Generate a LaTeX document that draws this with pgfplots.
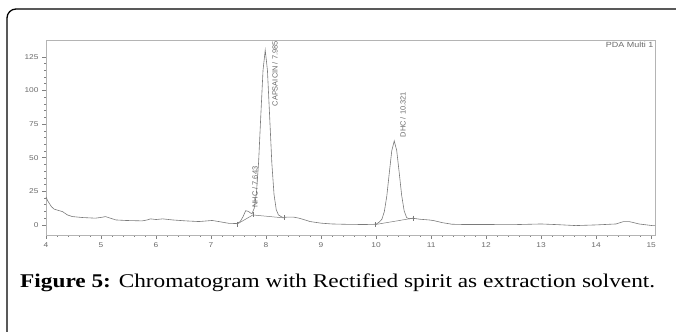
\documentclass[border=0pt]{standalone}
\usepackage{pgfplots}
\pgfplotsset{compat=1.18}
\usepackage{fontspec}
\setmainfont{Liberation Serif}
\newfontfamily\arial{Liberation Sans}
\definecolor{axgray}{HTML}{B4B4B4}
\definecolor{tickgray}{HTML}{808080}
\definecolor{lblgray}{HTML}{6A6A6A}
\definecolor{trace}{HTML}{7A7A7A}
\begin{document}
\begin{tikzpicture}
\clip (0,0) rectangle (676bp,332bp);
\draw[line width=1.3bp, rounded corners=9bp] (7bp,-20bp) -- (7bp,323bp) -- (700bp,323bp);
\begin{axis}[
  at={(46bp,97bp)}, anchor=south west,
  scale only axis, width=609bp, height=195bp,
  xmin=4, xmax=15.07, ymin=-7.5, ymax=137.5,
  xtick={4,5,...,15}, ytick={0,25,50,75,100,125},
  minor x tick num=4, minor y tick num=4,
  xtick pos=bottom, ytick pos=left,
  tick align=outside,
  major tick length=4bp, minor tick length=2bp,
  axis line style={axgray, line width=0.8bp},
  every tick/.style={tickgray, line width=0.5bp},
  tick label style={font=\arial\fontsize{7}{8}\selectfont, text=lblgray},
  /pgf/number format/assume math mode=true,
  xticklabel={\scalebox{1.2}[1]{\pgfmathprintnumber{\tick}}},
  yticklabel={\scalebox{1.2}[1]{\pgfmathprintnumber{\tick}}},
  xticklabel style={yshift=-0.5bp},
  clip=false,
]
\addplot[trace, line width=0.6bp] coordinates {
(4.00,20.8) (4.03,18) (4.06,16) (4.10,13.5) (4.15,11.7) (4.24,10.6) (4.30,9.9) (4.39,7.4) (4.48,6.2) (4.66,5.5) (4.90,5.0) (5.02,5.7) (5.08,6.2) (5.17,5.0) (5.27,3.7) (5.45,3.3) (5.75,3.0) (5.84,3.7) (5.90,4.5) (6.00,4.0) (6.12,4.5) (6.30,3.7) (6.54,3.0) (6.78,2.5) (7.02,3.3) (7.14,2.5) (7.32,1.2) (7.47,1.0) (7.53,2.5) (7.58,6) (7.63,10.6) (7.68,10.0) (7.72,8.8) (7.745,8.4) (7.785,12.4) (7.825,23.6) (7.865,47) (7.905,81.7) (7.945,115) (7.985,130) (8.025,115) (8.065,81) (8.105,46) (8.145,22.6) (8.185,11.4) (8.225,7.4) (8.30,5.6) (8.40,5.8) (8.50,5.8) (8.60,5.0) (8.70,3.8) (8.80,2.5) (9.00,1.3) (9.20,0.7) (9.50,0.4) (9.80,0.3) (10.00,0.5) (10.06,2.2) (10.105,4.2) (10.15,9.9) (10.195,21.5) (10.24,38.6) (10.285,55.1) (10.33,62.5) (10.375,55.3) (10.42,39) (10.465,22) (10.51,10.5) (10.555,5.5) (10.60,4.5) (10.66,5.0) (10.80,4.2) (10.96,3.7) (11.05,3.2) (11.20,1.7) (11.38,0.5) (11.6,0.3) (12.0,0.3) (12.5,0.2) (13.0,0.7) (13.3,0.2) (13.63,-0.5) (14.0,0) (14.36,0.7) (14.5,2.5) (14.6,2.5) (14.78,0.7) (15.02,-0.5) (15.07,-0.5)
};
\addplot[trace, line width=0.5bp, mark=|, mark size=2.5bp] coordinates {(7.47,0.5) (7.76,7.4) (8.33,5.2)};
\addplot[trace, line width=0.5bp, mark=|, mark size=2.5bp] coordinates {(9.99,0.3) (10.67,5)};
\node[rotate=90, anchor=west, inner sep=0pt, font=\arial\fontsize{7.5}{8}\selectfont, text=lblgray] at (axis cs:7.80,12.6) {NHC / 7.643};
\node[rotate=90, anchor=west, inner sep=0pt, font=\arial\fontsize{7.5}{8}\selectfont, text=lblgray] at (axis cs:8.16,88) {CAPSAICIN / 7.985};
\node[rotate=90, anchor=west, inner sep=0pt, font=\arial\fontsize{7.5}{8}\selectfont, text=lblgray] at (axis cs:10.49,65) {DHC / 10.321};
\node[anchor=north east, inner sep=1.5bp, font=\arial\fontsize{7.5}{8}\selectfont, text=lblgray] at (rel axis cs:1,1) {\scalebox{1.2}[1]{PDA Multi 1}};
\end{axis}
\node[anchor=base west, inner sep=0pt] at (20bp,44.5bp) {\resizebox{635bp}{\height}{\fontsize{19.5}{22}\selectfont\textbf{Figure 5:} Chromatogram with Rectified spirit as extraction solvent.}};
\end{tikzpicture}
\end{document}
